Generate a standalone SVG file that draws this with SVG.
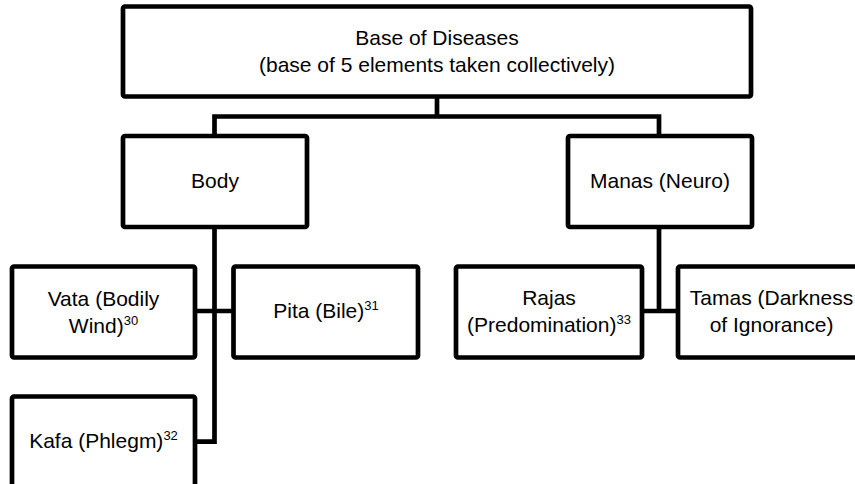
<svg xmlns="http://www.w3.org/2000/svg" width="855" height="484" viewBox="0 0 855 484">
<style>
.box{fill:#fff;stroke:#000;stroke-width:4.7;stroke-linejoin:round}
.lnk{fill:none;stroke:#000;stroke-width:4.7;stroke-linejoin:miter}
text{font-family:"Liberation Sans",Arial,sans-serif;font-size:21px;fill:#000;text-anchor:middle}
.sup{font-size:13px}
</style>
<rect width="855" height="484" fill="#fff"/>
<g id="connectors">
<path class="lnk" d="M437,96.5 V116.5 M214.5,136 V116.5 H659 V136"/>
<path class="lnk" d="M214.5,227 V441.7 H195 M195,311 H233.5"/>
<path class="lnk" d="M659,227 V311 M642,311 H678"/>
</g>
<g id="root">
<rect class="box" x="123" y="6.5" width="628" height="90" rx="2"/>
<text x="437" y="45">Base of Diseases</text>
<text x="437" y="71.7">(base of 5 elements taken collectively)</text>
</g>
<g id="body">
<rect class="box" x="123" y="136" width="184" height="91" rx="2"/>
<text x="215" y="188.3">Body</text>
</g>
<g id="manas">
<rect class="box" x="568" y="136" width="184" height="91" rx="2"/>
<text x="660" y="188.3">Manas (Neuro)</text>
</g>
<g id="vata">
<rect class="box" x="12" y="266.5" width="183" height="91" rx="2"/>
<text x="103.5" y="306">Vata (Bodily</text>
<text x="103.5" y="333">Wind)<tspan class="sup" dy="-8">30</tspan></text>
</g>
<g id="pita">
<rect class="box" x="233.5" y="266.5" width="184.5" height="91" rx="2"/>
<text x="326" y="318.3">Pita (Bile)<tspan class="sup" dy="-8">31</tspan></text>
</g>
<g id="kafa">
<rect class="box" x="12" y="396.5" width="183" height="92" rx="2"/>
<text x="103.5" y="448.3">Kafa (Phlegm)<tspan class="sup" dy="-8">32</tspan></text>
</g>
<g id="rajas">
<rect class="box" x="456" y="266.5" width="186" height="91" rx="2"/>
<text x="549" y="305">Rajas</text>
<text x="549" y="331.7">(Predomination)<tspan class="sup" dy="-8">33</tspan></text>
</g>
<g id="tamas">
<rect class="box" x="678" y="266.5" width="186" height="91" rx="2"/>
<text x="771.5" y="305">Tamas (Darkness</text>
<text x="771.5" y="331.7">of Ignorance)</text>
</g>
</svg>
